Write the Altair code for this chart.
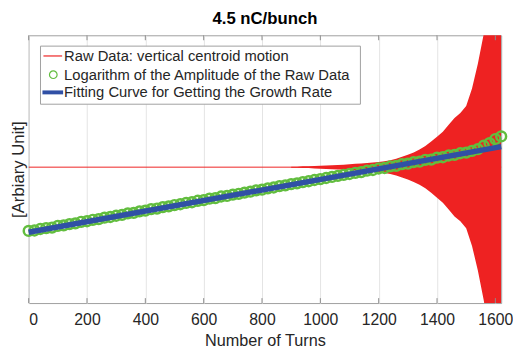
import altair as alt
import pandas as pd

# ---------------- data ----------------
title_text = "4.5 nC/bunch"
legend_labels = [
    "Raw Data: vertical centroid motion",
    "Logarithm of the Amplitude of the Raw Data",
    "Fitting Curve for Getting the Growth Rate",
]
x_ticks = [0, 200, 400, 600, 800, 1000, 1200, 1400, 1600]

# raw data: quiet level before the instability
raw_base_turns = [0, 1620]
raw_base_value = [0.015, 0.015]

# raw data: oscillation envelope (half amplitude) once it starts to grow
raw_turns = [900, 920, 940, 960, 980, 1000, 1020, 1040, 1060, 1080, 1100,
             1120, 1140, 1160, 1180, 1200, 1220, 1240, 1260, 1280, 1300,
             1320, 1340, 1360, 1380, 1400, 1420, 1440, 1460, 1480, 1500,
             1520, 1540, 1560, 1580, 1600, 1620]
raw_amp = [0.004, 0.004, 0.006, 0.007, 0.009, 0.011, 0.013, 0.015, 0.017,
           0.019, 0.022, 0.025, 0.028, 0.032, 0.035, 0.039, 0.044, 0.051,
           0.063, 0.077, 0.092, 0.110, 0.132, 0.158, 0.191, 0.228, 0.265,
           0.316, 0.368, 0.404, 0.456, 0.588, 0.772, 0.993, 1.250, 1.544,
           1.838]

# logarithm of the amplitude (green circles)
log_turns = list(range(0, 1621, 20))
log_amp = [-0.461, -0.458, -0.447, -0.441, -0.436, -0.424, -0.420, -0.410,
           -0.405, -0.393, -0.389, -0.378, -0.373, -0.362, -0.357, -0.348,
           -0.341, -0.330, -0.326, -0.315, -0.310, -0.299, -0.294, -0.283,
           -0.278, -0.268, -0.262, -0.252, -0.247, -0.236, -0.231, -0.220,
           -0.216, -0.204, -0.200, -0.190, -0.184, -0.175, -0.168, -0.158,
           -0.153, -0.143, -0.137, -0.127, -0.121, -0.112, -0.106, -0.097,
           -0.090, -0.081, -0.074, -0.066, -0.058, -0.050, -0.042, -0.036,
           -0.027, -0.022, -0.011, -0.006, 0.005, 0.009, 0.021, 0.025,
           0.038, 0.041, 0.053, 0.056, 0.070, 0.072, 0.086, 0.089, 0.102,
           0.107, 0.119, 0.124, 0.137, 0.150, 0.175, 0.195, 0.225, 0.245]

# fitted straight line (blue)
fit_turns = [0, 1620]
fit_value = [-0.471, 0.169]

RED = "#ee2222"
GREEN = "#62bd3e"
BLUE = "#3050a5"
FONT = "Liberation Sans"

# ---------------- tables ----------------
base_df = pd.DataFrame({"turn": raw_base_turns, "v": raw_base_value})
raw_df = pd.DataFrame({"turn": raw_turns, "amp": raw_amp})
raw_df["lo"] = raw_base_value[0] - raw_df["amp"]
raw_df["hi"] = raw_base_value[0] + raw_df["amp"]
log_df = pd.DataFrame({"turn": log_turns, "v": log_amp})
fit_df = pd.DataFrame({"turn": fit_turns, "v": fit_value})
tick_df = pd.DataFrame({"turn": x_ticks})
one = pd.DataFrame({"k": [0]})

xscale = alt.Scale(domain=[0, 1620], nice=False, zero=False)
yscale = alt.Scale(domain=[-1, 1], nice=False, zero=False)

x_axis = alt.Axis(values=x_ticks, format="d", grid=True, gridColor="#e4e4e4",
                  gridWidth=1, ticks=False, domain=False, labelFontSize=16,
                  labelFont=FONT, labelColor="#262626", labelPadding=9,
                  title="Number of Turns", titleFontSize=16.5, titleFont=FONT,
                  titleFontWeight="normal", titleColor="#262626", titlePadding=5)
y_axis = alt.Axis(labels=False, ticks=False, grid=False, domain=False,
                  title="[Arbiary Unit]", titleFontSize=17, titleFont=FONT,
                  titleFontWeight="normal", titleColor="#262626", titlePadding=1)

X = alt.X("turn:Q", scale=xscale, axis=x_axis)

base_line = alt.Chart(base_df).mark_line(color=RED, strokeWidth=1).encode(
    x=X, y=alt.Y("v:Q", scale=yscale, axis=y_axis))

raw_area = alt.Chart(raw_df).mark_area(color=RED, opacity=1, clip=True).encode(
    x=alt.X("turn:Q", scale=xscale), y=alt.Y("lo:Q", scale=yscale), y2="hi:Q")

log_pts = alt.Chart(log_df).mark_point(shape="circle", filled=False, color=GREEN,
                                        size=100, strokeWidth=2.5, opacity=1).encode(
    x=alt.X("turn:Q", scale=xscale), y=alt.Y("v:Q", scale=yscale))

fit_line = alt.Chart(fit_df).mark_line(color=BLUE, strokeWidth=5.5).encode(
    x=alt.X("turn:Q", scale=xscale), y=alt.Y("v:Q", scale=yscale))

ticks_bottom = alt.Chart(tick_df).mark_rule(color="#8c8c8c").encode(
    x=alt.X("turn:Q", scale=xscale), y=alt.value(272), y2=alt.value(267))
ticks_top = alt.Chart(tick_df).mark_rule(color="#8c8c8c").encode(
    x=alt.X("turn:Q", scale=xscale), y=alt.value(0), y2=alt.value(5))

# legend box (inside plot, top-left)
leg_box = alt.Chart(one).mark_rect(fill="white", stroke="#a0a0a0", strokeWidth=1).encode(
    x=alt.value(12), x2=alt.value(337), y=alt.value(11), y2=alt.value(70))
leg_red = alt.Chart(one).mark_rule(color=RED, strokeWidth=1.2).encode(
    x=alt.value(15), x2=alt.value(34), y=alt.value(21))
leg_green = alt.Chart(one).mark_point(shape="circle", filled=False, color=GREEN,
                                       size=60, strokeWidth=1.2, opacity=1).encode(
    x=alt.value(25), y=alt.value(40))
leg_blue = alt.Chart(one).mark_rule(color=BLUE, strokeWidth=4).encode(
    x=alt.value(14), x2=alt.value(35), y=alt.value(58))

def leg_text(label, ypos):
    return alt.Chart(one).mark_text(text=label, align="left", baseline="middle",
                                    font=FONT, fontSize=15, color="#262626").encode(
        x=alt.value(36), y=alt.value(ypos))

chart = alt.layer(
    base_line, raw_area, log_pts, fit_line, ticks_bottom, ticks_top,
    leg_box, leg_red, leg_green, leg_blue,
    leg_text(legend_labels[0], 21), leg_text(legend_labels[1], 40),
    leg_text(legend_labels[2], 58),
).properties(
    width=480, height=272,
    title=alt.TitleParams(title_text, font=FONT, fontSize=17, fontWeight="bold",
                          color="#000000", anchor="middle", offset=7),
    autosize=alt.AutoSizeParams(type="none"),
    padding={"left": 21, "top": 25, "right": 12, "bottom": 48},
).configure_view(stroke="#a0a0a0", strokeWidth=1)

chart.save("out.html", embed_options={"renderer": "svg", "actions": False})
